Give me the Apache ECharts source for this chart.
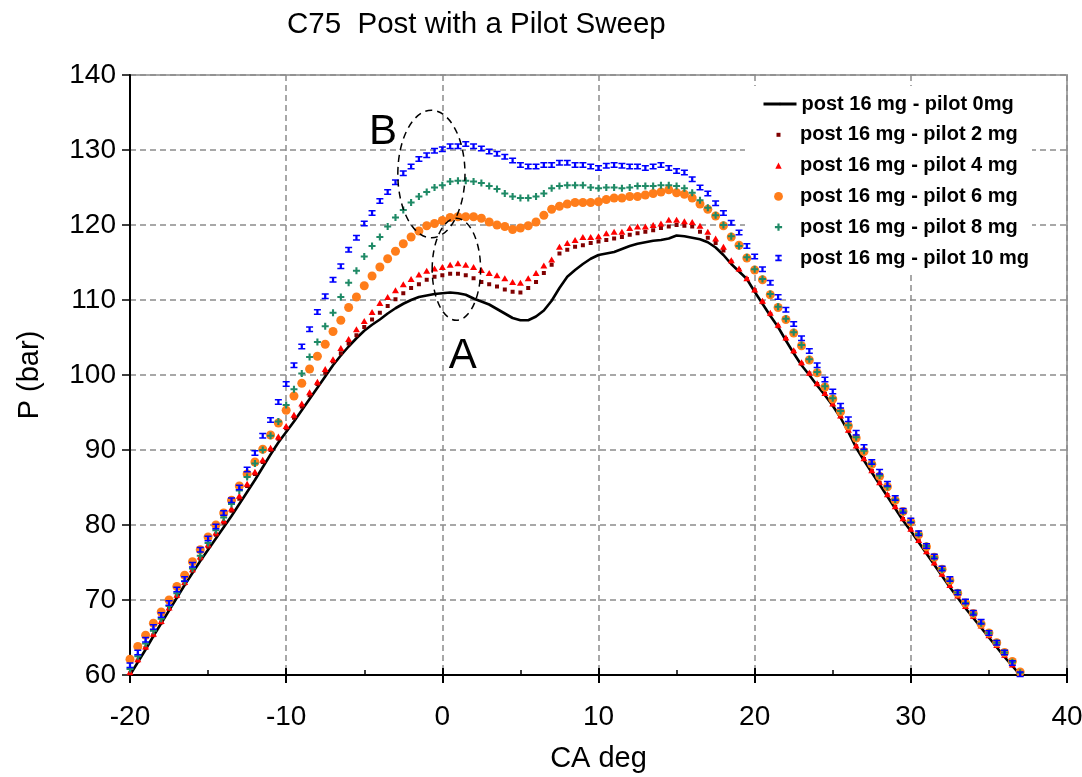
<!DOCTYPE html>
<html>
<head>
<meta charset="utf-8">
<script src="https://cdn.jsdelivr.net/npm/echarts/dist/echarts.min.js"></script>
<style>
  html, body { margin: 0; padding: 0; background: #fff; }
  #chart { width: 1082px; height: 777px; }
</style>
</head>
<body>
<div id="chart"></div>
<script>
// Crank angle (deg) at which every pressure trace is sampled
const crankAngle = [
  -20, -19.5, -19, -18.5, -18, -17.5, -17, -16.5, -16, -15.5,
  -15, -14.5, -14, -13.5, -13, -12.5, -12, -11.5, -11, -10.5,
  -10, -9.5, -9, -8.5, -8, -7.5, -7, -6.5, -6, -5.5,
  -5, -4.5, -4, -3.5, -3, -2.5, -2, -1.5, -1, -0.5,
  0, 0.5, 1, 1.5, 2, 2.5, 3, 3.5, 4, 4.5,
  5, 5.5, 6, 6.5, 7, 7.5, 8, 8.5, 9, 9.5,
  10, 10.5, 11, 11.5, 12, 12.5, 13, 13.5, 14, 14.5,
  15, 15.5, 16, 16.5, 17, 17.5, 18, 18.5, 19, 19.5,
  20, 20.5, 21, 21.5, 22, 22.5, 23, 23.5, 24, 24.5,
  25, 25.5, 26, 26.5, 27, 27.5, 28, 28.5, 29, 29.5,
  30, 30.5, 31, 31.5, 32, 32.5, 33, 33.5, 34, 34.5,
  35, 35.5, 36, 36.5, 37
];

// Cylinder pressure (bar), post injection 16 mg, per pilot quantity
const pilot0 = [
  60.0, 61.7, 63.4, 65.2, 66.9, 68.6, 70.3, 72.0, 73.6, 75.2,
  76.7, 78.2, 79.7, 81.2, 82.8, 84.4, 86.0, 87.7, 89.4, 91.0,
  92.4, 93.8, 95.3, 96.8, 98.3, 99.8, 101.3, 102.6, 103.8, 104.9,
  105.9, 106.7, 107.4, 108.2, 108.9, 109.5, 110.0, 110.4, 110.6, 110.8,
  110.9, 111.0, 110.9, 110.7, 110.2, 109.8, 109.4, 108.8, 108.2, 107.6,
  107.3, 107.3, 107.8, 108.6, 109.9, 111.6, 113.1, 114.0, 114.8, 115.5,
  116.0, 116.2, 116.4, 116.8, 117.2, 117.5, 117.7, 117.9, 118.0, 118.2,
  118.6, 118.5, 118.3, 118.1, 117.7, 117.0, 116.0, 114.8, 113.8, 112.8,
  111.1, 109.5, 107.9, 106.4, 104.6, 102.9, 101.3, 100.0, 98.6, 97.3,
  95.9, 94.3, 92.4, 90.3, 88.6, 87.0, 85.4, 83.8, 82.2, 80.6,
  79.2, 77.7, 76.2, 74.7, 73.2, 71.7, 70.3, 68.9, 67.6, 66.3,
  65.0, 63.7, 62.4, 61.2, 60.0
];
const pilot2 = [
  60.2, 61.9, 63.6, 65.3, 67.0, 68.8, 70.5, 72.2, 73.9, 75.5,
  77.1, 78.7, 80.3, 81.9, 83.5, 85.2, 86.8, 88.4, 90.0, 91.5,
  92.9, 94.3, 95.8, 97.3, 98.8, 100.3, 101.8, 102.9, 104.2, 105.3,
  106.4, 107.4, 108.3, 109.2, 110.1, 110.9, 111.6, 112.1, 112.7, 113.1,
  113.3, 113.5, 113.5, 113.3, 112.9, 112.4, 112.1, 111.8, 111.4, 111.1,
  111.0, 111.6, 112.4, 113.6, 114.7, 116.2, 116.7, 117.1, 117.3, 117.6,
  117.8, 118.0, 118.2, 118.4, 118.7, 118.9, 119.1, 119.3, 119.6, 119.8,
  120.0, 119.9, 119.8, 119.1, 118.3, 117.6, 116.6, 115.1, 114.0, 112.8,
  111.3, 109.7, 108.1, 106.5, 104.8, 103.1, 101.5, 100.2, 98.8, 97.5,
  96.1, 94.5, 92.6, 90.5, 88.8, 87.2, 85.6, 84.0, 82.4, 80.8,
  79.4, 77.9, 76.4, 74.9, 73.4, 71.9, 70.5, 69.1, 67.8, 66.5,
  65.2, 63.9, 62.6, 61.3, 60.1
];
const pilot4 = [
  60.4, 62.1, 63.8, 65.5, 67.2, 69.0, 70.7, 72.4, 74.1, 75.8,
  77.4, 79.0, 80.6, 82.2, 83.9, 85.5, 87.1, 88.7, 90.3, 91.8,
  93.2, 94.7, 96.2, 97.7, 99.1, 100.8, 102.1, 103.6, 104.8, 106.1,
  107.2, 108.4, 109.6, 110.4, 111.3, 112.1, 112.8, 113.4, 113.9, 114.2,
  114.4, 114.7, 114.9, 114.7, 114.4, 114.0, 113.6, 113.3, 112.9, 112.4,
  112.3, 112.9, 113.6, 114.6, 115.4, 117.1, 117.6, 118.0, 118.4, 118.4,
  118.5, 118.9, 119.1, 119.1, 119.6, 119.8, 119.8, 120.0, 120.2, 120.7,
  120.7, 120.5, 120.4, 119.9, 119.1, 118.2, 117.1, 115.3, 114.2, 112.9,
  111.4, 109.9, 108.3, 106.7, 105.0, 103.3, 101.7, 100.3, 98.9, 97.6,
  96.2, 94.6, 92.7, 90.6, 88.9, 87.3, 85.7, 84.1, 82.5, 80.9,
  79.5, 78.0, 76.5, 75.0, 73.5, 72.0, 70.6, 69.2, 67.9, 66.6,
  65.3, 64.0, 62.7, 61.4, 60.2
];
const pilot6 = [
  62.1, 63.8, 65.3, 66.9, 68.4, 70.0, 71.8, 73.3, 75.1, 76.7,
  78.4, 80.0, 81.6, 83.3, 85.2, 86.8, 88.4, 90.1, 92.0, 93.6,
  95.3, 97.2, 98.9, 100.8, 102.5, 104.1, 105.8, 107.3, 109.0, 110.4,
  111.9, 113.2, 114.4, 115.5, 116.5, 117.5, 118.4, 119.2, 119.9, 120.2,
  120.6, 121.0, 121.1, 121.1, 121.1, 120.9, 120.4, 120.0, 119.8, 119.4,
  119.6, 119.9, 120.4, 121.3, 122.1, 122.5, 122.8, 123.0, 123.0, 123.0,
  123.1, 123.4, 123.6, 123.6, 123.8, 123.8, 124.0, 124.2, 124.4, 124.7,
  124.3, 124.1, 123.6, 122.8, 122.1, 121.2, 119.9, 118.4, 117.3, 115.6,
  114.0, 112.7, 110.7, 109.0, 107.4, 105.6, 103.9, 102.0, 100.3, 98.4,
  96.8, 95.1, 93.2, 91.6, 89.8, 88.1, 86.5, 85.1, 83.3, 81.8,
  80.4, 78.7, 77.1, 75.7, 74.1, 72.6, 70.9, 69.6, 68.2, 66.8,
  65.6, 64.3, 63.0, 61.8, 60.4
];
const pilot8 = [
  60.8, 62.5, 64.2, 65.9, 67.5, 69.2, 70.9, 72.5, 74.2, 75.9,
  77.6, 79.3, 81.0, 82.8, 84.6, 86.4, 88.2, 90.0, 91.9, 93.8,
  96.0, 98.1, 100.2, 102.4, 104.4, 106.5, 108.3, 110.4, 112.3, 113.9,
  115.8, 117.2, 118.4, 119.8, 121.0, 122.0, 123.0, 123.8, 124.4, 125.0,
  125.3, 125.8, 125.9, 125.9, 125.8, 125.6, 125.2, 124.8, 124.2, 123.8,
  123.6, 123.6, 123.8, 124.2, 124.9, 125.2, 125.3, 125.3, 125.3, 125.0,
  124.9, 125.0, 125.0, 124.9, 125.0, 125.2, 125.2, 125.2, 125.3, 125.3,
  125.2, 124.9, 124.3, 123.3, 122.3, 121.3, 120.0, 118.5, 117.2, 115.7,
  114.1, 112.8, 110.8, 109.1, 107.5, 105.7, 104.0, 102.1, 100.4, 98.5,
  96.9, 95.2, 93.3, 91.7, 89.9, 88.2, 86.6, 85.1, 83.4, 81.8,
  80.4, 78.8, 77.2, 75.7, 74.1, 72.6, 71.0, 69.6, 68.2, 66.9,
  65.6, 64.3, 63.0, 61.7, 60.3
];
const pilot10 = [
  61.3, 63.0, 64.7, 66.4, 68.0, 69.6, 71.4, 72.8, 74.7, 76.7,
  78.2, 79.8, 81.6, 83.3, 85.0, 87.4, 89.6, 91.9, 94.0, 96.4,
  98.8, 101.3, 103.8, 106.1, 108.4, 110.5, 112.7, 114.5, 116.7, 118.3,
  120.2, 121.6, 123.2, 124.4, 125.7, 126.9, 127.8, 128.8, 129.3, 129.9,
  130.1, 130.5, 130.5, 130.8, 130.5, 130.2, 129.8, 129.5, 129.1, 128.6,
  128.0, 127.8, 127.8, 128.0, 128.0, 128.3, 128.3, 128.0, 128.0, 127.8,
  127.6, 127.9, 128.0, 127.9, 127.8, 127.8, 127.6, 127.8, 128.0, 127.6,
  127.2, 127.0, 126.1, 125.0, 124.2, 122.9, 121.6, 120.3, 119.0, 117.2,
  115.8, 114.1, 112.3, 110.4, 108.7, 106.8, 104.9, 103.2, 101.3, 99.4,
  97.8, 95.9, 94.1, 92.3, 90.4, 88.4, 87.1, 85.5, 83.6, 81.9,
  80.6, 78.9, 77.2, 75.8, 74.2, 72.8, 71.0, 69.8, 68.3, 67.1,
  65.6, 64.3, 63.0, 61.6, 60.1
];

const seriesNames = [
  'post 16 mg - pilot 0mg',
  'post 16 mg - pilot 2 mg',
  'post 16 mg - pilot 4 mg',
  'post 16 mg - pilot 6 mg',
  'post 16 mg - pilot 8 mg',
  'post 16 mg - pilot 10 mg'
];

const chartTitle = 'C75  Post with a Pilot Sweep';
const xName = 'CA deg';
const yName = 'P (bar)';

// Callout ellipses (centre and half-axes in CA deg / bar) and their letters
const calloutEllipses = [
  { cx: -0.7, cy: 126.8, rx: 2.15, ry: 8.5 },
  { cx: 0.9, cy: 114.1, rx: 1.55, ry: 6.8 }
];
const calloutLetters = [
  { text: 'B', x: -3.8, y: 132.3 },
  { text: 'A', x: 1.3, y: 102.5 }
];

const FONT = "'Liberation Sans', Arial, Helvetica, sans-serif";

// Marker shapes
const SQUARE = 'path://M0,0H10V10H0Z';
const TRIANGLE = 'path://M5,0L10,10H0Z';
const PLUS = 'path://M3.5,0H6.5V3.5H10V6.5H6.5V10H3.5V6.5H0V3.5H3.5Z';
const IBEAM = 'path://M0,0H10V2.6H6.6V7.4H10V10H0V7.4H3.4V2.6H0Z';

const pairs = values => crankAngle.map((x, i) => [x, values[i]]);

const markerSpecs = [
  { values: pilot2, symbol: SQUARE, size: [4, 4], color: '#800000' },
  { values: pilot4, symbol: TRIANGLE, size: [7, 6], color: '#ff0000' },
  { values: pilot6, symbol: 'circle', size: [9, 9], color: '#ff7d1a' },
  { values: pilot8, symbol: PLUS, size: [7, 7], color: '#1f8a66' },
  { values: pilot10, symbol: IBEAM, size: [7, 6], color: '#0000ff' }
];

// Solid trace for the no-pilot case, marker-only traces for the pilot sweep
const series = [{
  name: seriesNames[0],
  type: 'line',
  data: pairs(pilot0),
  showSymbol: false,
  symbol: 'none',
  lineStyle: { color: '#000', width: 2.6 },
  itemStyle: { color: '#000' },
  z: 2
}].concat(markerSpecs.map((m, i) => ({
  name: seriesNames[i + 1],
  type: 'line',
  data: pairs(m.values),
  showSymbol: true,
  showAllSymbol: true,
  symbol: m.symbol,
  symbolSize: m.size,
  lineStyle: { width: 0, opacity: 0 },
  itemStyle: { color: m.color, opacity: 1, borderWidth: 0 },
  z: 3 + i
})));

// One legend block per row so each key keeps its own marker size
const legendCenters = [104, 134.8, 165.6, 196.4, 227.2, 258];
const legendIconHeights = [3, 5, 8, 11, 9, 8];
const legends = seriesNames.map((name, i) => ({
  data: [name],
  left: 762,
  top: legendCenters[i] - 12,
  padding: 0,
  itemWidth: 33,
  itemHeight: legendIconHeights[i],
  selectedMode: false,
  lineStyle: i === 0 ? { width: 3, color: '#000' } : { width: 0 },
  textStyle: { fontFamily: FONT, fontSize: 20, fontWeight: 'bold', color: '#000', lineHeight: 24 }
}));

const gridLine = { show: true, lineStyle: { color: '#8c8c8c', width: 1.5, type: [6, 4] } };

const chart = echarts.init(document.getElementById('chart'), null, { renderer: 'canvas' });

chart.setOption({
  animation: false,
  backgroundColor: '#fff',
  title: {
    text: chartTitle,
    left: 282,
    top: 5,
    textStyle: { fontFamily: FONT, fontSize: 29.5, fontWeight: 'normal', color: '#000' }
  },
  grid: {
    left: 130, right: 15, top: 75, bottom: 102,
    show: true, borderColor: '#a6a6a6', borderWidth: 2,
    outerBoundsMode: 'none'
  },
  legend: legends,
  xAxis: [{
    type: 'value', min: -20, max: 40, interval: 10,
    name: xName, nameLocation: 'middle', nameGap: 69,
    nameTextStyle: { fontFamily: FONT, fontSize: 29, color: '#000' },
    axisLine: { show: true, onZero: false, lineStyle: { color: '#000', width: 2 } },
    axisTick: { show: true, inside: false, length: 8, lineStyle: { color: '#000', width: 2 } },
    axisLabel: { margin: 28, fontFamily: FONT, fontSize: 28, color: '#000' },
    splitLine: gridLine
  }, {
    type: 'value', min: -20, max: 40, interval: 10, position: 'bottom',
    axisLine: { show: false, onZero: false },
    axisTick: { show: true, inside: true, length: 7, lineStyle: { color: '#000', width: 2 } },
    minorTick: { show: true, splitNumber: 2, length: 5, lineStyle: { color: '#000', width: 1.5 } },
    axisLabel: { show: false },
    splitLine: { show: false }
  }],
  yAxis: {
    type: 'value', min: 60, max: 140, interval: 10,
    name: yName, nameLocation: 'middle', nameGap: 86, nameRotate: 90,
    nameTextStyle: { fontFamily: FONT, fontSize: 29, color: '#000' },
    axisLine: { show: true, onZero: false, lineStyle: { color: '#000', width: 2 } },
    axisTick: { show: true, inside: false, length: 8, lineStyle: { color: '#000', width: 1.5 } },
    axisLabel: { margin: 14, fontFamily: FONT, fontSize: 28, color: '#000' },
    splitLine: gridLine
  },
  series: series
});

// Legend backdrop, dashed callouts and their letters, placed in data space
function drawAnnotations() {
  const toPx = (x, y) => chart.convertToPixel({ gridIndex: 0 }, [x, y]);
  const elements = [{
    type: 'rect', z: 1,
    shape: { x: 745, y: 86, width: 287, height: 186 },
    style: { fill: '#fff' }
  }];
  calloutEllipses.forEach(e => {
    const c = toPx(e.cx, e.cy);
    const corner = toPx(e.cx + e.rx, e.cy + e.ry);
    elements.push({
      type: 'ellipse', z: 20,
      shape: { cx: c[0], cy: c[1], rx: corner[0] - c[0], ry: c[1] - corner[1] },
      style: { fill: null, stroke: '#000', lineWidth: 1.5, lineDash: [7, 5] }
    });
  });
  calloutLetters.forEach(l => {
    const p = toPx(l.x, l.y);
    elements.push({
      type: 'text', z: 20,
      style: {
        text: l.text, x: p[0], y: p[1],
        font: '42px ' + FONT, fill: '#000',
        textAlign: 'center', textVerticalAlign: 'middle',
        align: 'center', verticalAlign: 'middle'
      }
    });
  });
  chart.setOption({ graphic: { elements: elements } });
}
drawAnnotations();
</script>
</body>
</html>
